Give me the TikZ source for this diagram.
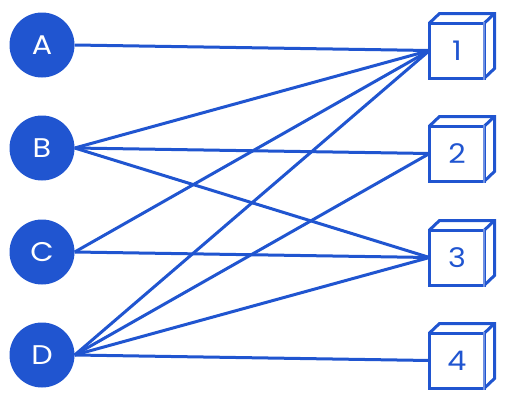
\documentclass[tikz,border=0pt]{standalone}
\usepackage{fontspec}
\setmainfont[FakeStretch=1.12]{Poppins}
\definecolor{mainblue}{HTML}{2055D0}
\definecolor{paleblue}{HTML}{6F90E2}
\tikzset{
 x=1pt,y=-1pt,
 ball/.style={circle,fill=mainblue,text=white,minimum size=65pt,inner sep=0pt,font=\fontsize{27}{27}\selectfont},
 cube/.style={rectangle,draw=mainblue,line width=3pt,text=mainblue,minimum size=55pt,inner sep=0pt,outer sep=0pt,font=\fontsize{27}{27}\selectfont},
 link/.style={draw=mainblue,line width=3pt},
 edge3d/.style={draw=mainblue,line width=3pt,line join=miter},
 shade3d/.style={draw=paleblue,line width=2pt},
}
\begin{document}
\begin{tikzpicture}
\useasboundingbox (0,0) rectangle (507,402);
\node[ball] (a) at (42,45) {A};
\node[ball] (b) at (42,148) {B};
\node[ball] (c) at (42,252) {C};
\node[ball] (d) at (42,355) {D};
\node[cube] (n1) at (457,50.5) {1};
\node[cube] (n2) at (457,153.5) {2};
\node[cube] (n3) at (457,257.5) {3};
\node[cube] (n4) at (457,360.5) {4};
\foreach \n in {n1,n2,n3,n4}{
  \draw[edge3d] (\n.north west) -- ++(10,-9.5) -- ++(55,0) -- ++(0,55) -- (\n.south east);
  \draw[edge3d] (\n.north east) -- ++(10,-9.5);
  \draw[shade3d] ([xshift=-1pt,yshift=1.5pt]\n.north east) -- ([xshift=-1pt,yshift=-1.5pt]\n.south east);
}
\foreach \s/\t in {a/n1,b/n1,b/n2,b/n3,c/n1,c/n3,d/n1,d/n2,d/n3,d/n4}{
  \draw[link] (\s.east) -- (\t.west);
}
\end{tikzpicture}
\end{document}
